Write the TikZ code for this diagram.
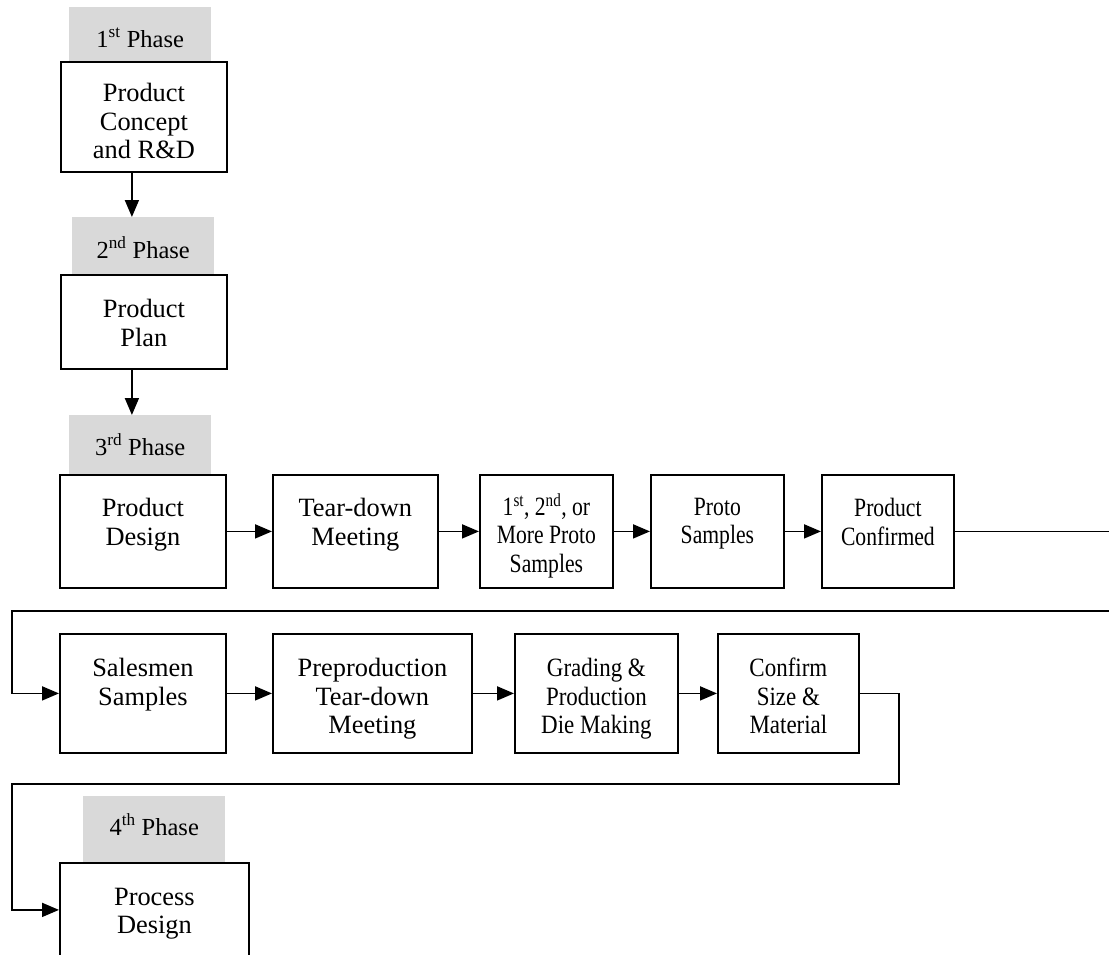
\documentclass[tikz,border=0pt]{standalone}
\usepackage{fontspec}
\setmainfont{Liberation Serif}
\usetikzlibrary{arrows.meta,calc}
\definecolor{phasegray}{RGB}{217,217,217}
\newcommand{\cza}[1]{\scalebox{0.82}[1]{#1}}
\newcommand{\czb}[1]{\scalebox{0.87}[1]{#1}}
\begin{document}
\begin{tikzpicture}[x=1pt,y=-1pt,
  box/.style={draw=black,line width=1.8pt,fill=white,rectangle,anchor=north west,inner sep=0pt},
  phasebox/.style={fill=phasegray,draw=none,rectangle,anchor=north west,inner sep=0pt},
  txt/.style={anchor=north,align=center,inner sep=0pt,font=\fontsize{26.4}{28.5}\selectfont},
  ptxt/.style={anchor=base,inner sep=0pt,font=\fontsize{24.5}{28}\selectfont},
  conn/.style={line width=1.8pt,draw=black},
  arr/.style={conn,-{Triangle[length=17pt,width=14pt]}},
]
\useasboundingbox (0,0) rectangle (1109,954);

% phase labels (gray)
\node[phasebox,minimum width=142pt,minimum height=54pt] (g1) at (69,7) {};
\node[phasebox,minimum width=142pt,minimum height=57pt] (g2) at (72,217) {};
\node[phasebox,minimum width=142pt,minimum height=59pt] (g3) at (69,415) {};
\node[phasebox,minimum width=142pt,minimum height=66pt] (g4) at (83,796) {};
\node[ptxt] (g1t) at ($(g1.north)+(0,40)$) {1\textsuperscript{st} Phase};
\node[ptxt] (g2t) at ($(g2.north)+(0,41)$) {2\textsuperscript{nd} Phase};
\node[ptxt] (g3t) at ($(g3.north)+(0,40)$) {3\textsuperscript{rd} Phase};
\node[ptxt] (g4t) at ($(g4.north)+(0,39)$) {4\textsuperscript{th} Phase};

% boxes
\node[box,minimum width=166pt,minimum height=110pt] (b1) at (60,61) {};
\node[box,minimum width=166pt,minimum height=94pt] (b2) at (60,274) {};

\node[box,minimum width=166pt,minimum height=113pt] (r1a) at (59,474) {};
\node[box,minimum width=165pt,minimum height=113pt] (r1b) at (272,474) {};
\node[box,minimum width=133pt,minimum height=113pt] (r1c) at (479,474) {};
\node[box,minimum width=133pt,minimum height=113pt] (r1d) at (650,474) {};
\node[box,minimum width=132pt,minimum height=113pt] (r1e) at (821,474) {};

\node[box,minimum width=166pt,minimum height=119pt] (r2a) at (59,633) {};
\node[box,minimum width=199pt,minimum height=119pt] (r2b) at (272,633) {};
\node[box,minimum width=163pt,minimum height=119pt] (r2c) at (514,633) {};
\node[box,minimum width=141pt,minimum height=119pt] (r2d) at (717,633) {};

\node[box,minimum width=189pt,minimum height=94pt] (pd) at (59,862) {};

% box texts
\node[txt] (b1t) at ($(b1.north)+(0,22)$) {Product\\Concept\\and R\&D};
\node[txt] (b2t) at ($(b2.north)+(0,25)$) {Product\\Plan};
\node[txt] (r1at) at ($(r1a.north)+(0,24)$) {Product\\Design};
\node[txt] (r1bt) at ($(r1b.north)+(0,24)$) {Tear-down\\Meeting};
\node[txt] (r1ct) at ($(r1c.north)+(0,19)$) {\cza{1\textsuperscript{st}, 2\textsuperscript{nd}, or}\\\cza{More Proto}\\\cza{Samples}};
\node[txt] (r1dt) at ($(r1d.north)+(0,24)$) {\cza{Proto}\\\cza{Samples}};
\node[txt] (r1et) at ($(r1e.north)+(0,24)$) {\cza{Product}\\\cza{Confirmed}};
\node[txt] (r2at) at ($(r2a.north)+(0,25)$) {Salesmen\\Samples};
\node[txt] (r2bt) at ($(r2b.north)+(0,25)$) {Preproduction\\Tear-down\\Meeting};
\node[txt] (r2ct) at ($(r2c.north)+(0,25)$) {\czb{Grading \&}\\\czb{Production}\\\czb{Die Making}};
\node[txt] (r2dt) at ($(r2d.north)+(0,25)$) {\czb{Confirm}\\\czb{Size \&}\\\czb{Material}};
\node[txt] (pdt) at ($(pd.north)+(0,26)$) {Process\\Design};

% vertical arrows
\draw[arr] ([xshift=-12pt]b1.south) -- ([xshift=-12pt]b1.south |- g2.north);
\draw[arr] ([xshift=-12pt]b2.south) -- ([xshift=-12pt]b2.south |- g3.north);

% row 1 arrows
\draw[arr] (r1a.east) -- (r1b.west);
\draw[arr] (r1b.east) -- (r1c.west);
\draw[arr] (r1c.east) -- (r1d.west);
\draw[arr] (r1d.east) -- (r1e.west);

% wrap from row 1 to row 2
\coordinate (rt) at (1114,611);
\coordinate (lt) at (12,611);
\draw[arr] (r1e.east) -- (r1e.east -| rt) -- (rt) -- (lt) |- (r2a.west);

% row 2 arrows
\draw[arr] (r2a.east) -- (r2b.west);
\draw[arr] (r2b.east) -- (r2c.west);
\draw[arr] (r2c.east) -- (r2d.west);

% wrap from row 2 to process design
\coordinate (rt2) at (899,784);
\coordinate (lt2) at (12,784);
\draw[arr] (r2d.east) -| (rt2) -- (lt2) |- (pd.west);
\end{tikzpicture}
\end{document}
